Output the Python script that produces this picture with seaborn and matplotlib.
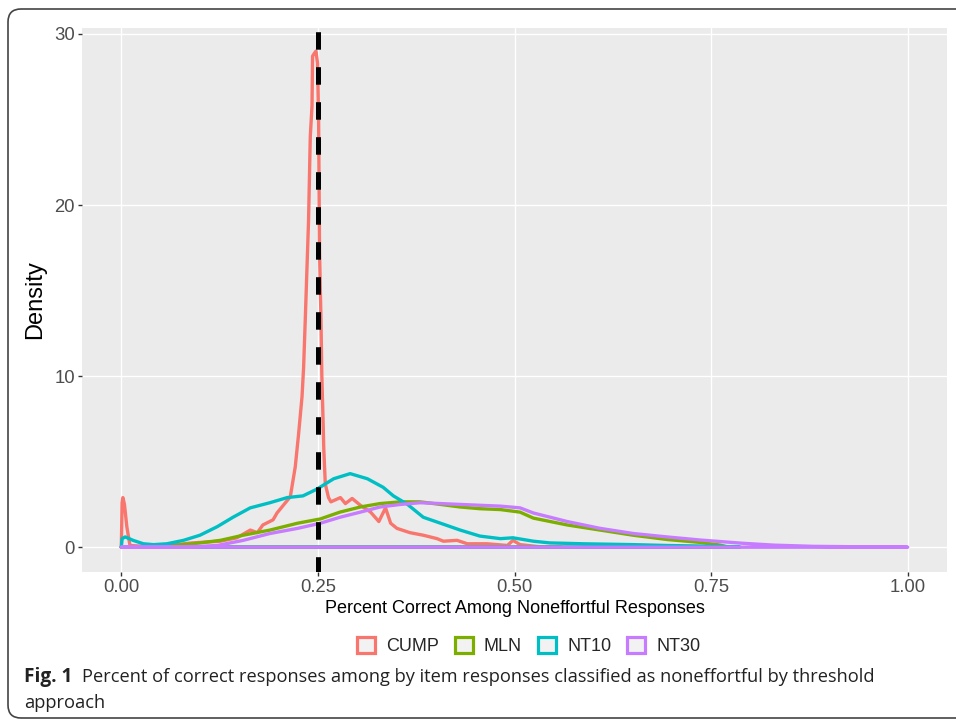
import numpy as np
import pandas as pd
import seaborn as sns
import matplotlib.pyplot as plt
from matplotlib.patches import Patch, FancyBboxPatch
from matplotlib.transforms import IdentityTransform

# density curves (x = percent correct, y = density)
cump_x = [0.000, 0.001, 0.002, 0.004, 0.007, 0.011, 0.030, 0.060, 0.090, 0.126, 0.147, 0.164,
          0.173, 0.180, 0.193, 0.198, 0.206, 0.2149, 0.2212, 0.2254, 0.2298, 0.2318, 0.234,
          0.2381, 0.2403, 0.2425, 0.2432, 0.2445, 0.2475, 0.2495, 0.2509, 0.2521, 0.2539,
          0.2550, 0.2565, 0.2575, 0.2594, 0.2635, 0.2665, 0.2786, 0.2850, 0.2935, 0.3040,
          0.3170, 0.3275, 0.3360, 0.3425, 0.3505, 0.3670, 0.3840, 0.4015, 0.4095, 0.4270,
          0.4400, 0.4650, 0.4910, 0.4980, 0.5070, 0.5330, 0.5600]
cump_y = [0.0, 2.6, 2.9, 2.5, 1.2, 0.1, 0.05, 0.1, 0.25, 0.35, 0.55, 1.0,
          0.85, 1.3, 1.6, 2.0, 2.45, 2.95, 4.7, 6.6, 8.8, 10.5, 13.4,
          19.1, 24.0, 25.8, 28.7, 28.8, 29.0, 28.3, 25.0, 17.2, 13.3,
          10.0, 7.5, 5.7, 3.7, 2.9, 2.65, 2.9, 2.55, 2.85, 2.45,
          2.05, 1.5, 2.3, 1.4, 1.1, 0.85, 0.7, 0.5, 0.35, 0.4,
          0.2, 0.2, 0.1, 0.4, 0.15, 0.02, 0.0]

mln_x = [0.000, 0.030, 0.060, 0.0915, 0.126, 0.155, 0.189, 0.224, 0.253, 0.278, 0.304, 0.329,
         0.355, 0.380, 0.406, 0.431, 0.456, 0.482, 0.507, 0.524, 0.567, 0.609, 0.651, 0.694,
         0.736, 0.762, 0.772]
mln_y = [0.0, 0.02, 0.08, 0.2, 0.4, 0.7, 1.0, 1.4, 1.65, 2.05, 2.35, 2.55,
         2.65, 2.65, 2.5, 2.35, 2.25, 2.2, 2.05, 1.7, 1.3, 1.0, 0.7, 0.45,
         0.28, 0.12, 0.0]

nt10_x = [0.000, 0.001, 0.005, 0.015, 0.028, 0.041, 0.058, 0.079, 0.100, 0.122, 0.142, 0.164,
          0.189, 0.211, 0.231, 0.249, 0.270, 0.291, 0.313, 0.333, 0.346, 0.364, 0.384, 0.406,
          0.431, 0.456, 0.482, 0.498, 0.524, 0.545, 0.587, 0.651, 0.694, 0.762, 0.787]
nt10_y = [0.0, 0.5, 0.6, 0.4, 0.2, 0.15, 0.2, 0.4, 0.7, 1.2, 1.75, 2.3,
          2.6, 2.9, 3.0, 3.4, 4.0, 4.3, 4.0, 3.5, 3.0, 2.5, 1.75, 1.4,
          1.0, 0.65, 0.5, 0.55, 0.35, 0.25, 0.2, 0.15, 0.1, 0.05, 0.0]

nt30_x = [0.000, 0.050, 0.100, 0.122, 0.155, 0.189, 0.224, 0.253, 0.278, 0.304, 0.329, 0.355,
          0.380, 0.406, 0.431, 0.456, 0.482, 0.507, 0.524, 0.567, 0.609, 0.651, 0.694, 0.736,
          0.790, 0.830, 0.880, 0.950, 1.000]
nt30_y = [0.0, 0.0, 0.05, 0.1, 0.4, 0.8, 1.1, 1.4, 1.75, 2.05, 2.35, 2.5,
          2.6, 2.55, 2.5, 2.45, 2.4, 2.3, 2.0, 1.5, 1.1, 0.8, 0.6, 0.42,
          0.23, 0.12, 0.05, 0.02, 0.0]

methods = ["CUMP", "MLN", "NT10", "NT30"]
colors = ["#F8766D", "#7CAE00", "#00BFC4", "#C77CFF"]
threshold = 0.25

curves = {"CUMP": (cump_x, cump_y), "MLN": (mln_x, mln_y),
          "NT10": (nt10_x, nt10_y), "NT30": (nt30_x, nt30_y)}

# geom_density outlines are closed polygons -> add the return along the baseline
frames = []
for m in methods:
    xs, ys = curves[m]
    xs = list(xs) + [xs[0]]
    ys = list(ys) + [0.0]
    frames.append(pd.DataFrame({"x": xs, "density": ys, "method": m,
                                "order": np.arange(len(xs))}))
df = pd.concat(frames, ignore_index=True)

sns.set_theme(style="darkgrid", rc={"axes.facecolor": "#EBEBEB",
                                    "grid.color": "white",
                                    "grid.linewidth": 1.0})
plt.rcParams["font.family"] = ["Liberation Sans", "DejaVu Sans"]

fig = plt.figure(figsize=(9.56, 7.22), dpi=100)
ax = fig.add_axes([82 / 956, 150 / 722, 865 / 956, 544 / 722])

for m, c in zip(methods, colors):
    sns.lineplot(data=df[df["method"] == m], x="x", y="density", color=c,
                 sort=False, estimator=None, linewidth=2.4, ax=ax, legend=False)

# dashed threshold line, drawn top -> bottom so the dash phase matches
ax.axvline(threshold, ymin=1, ymax=0, color="black", linewidth=3.6,
           linestyle=(6.26, (3.5, 3.5)))

ax.set_xlim(-0.05, 1.05)
ax.set_ylim(-1.45, 30.35)
ax.set_xticks([0, 0.25, 0.5, 0.75, 1.0])
ax.set_xticklabels(["0.00", "0.25", "0.50", "0.75", "1.00"])
ax.set_yticks([0, 10, 20, 30])
ax.tick_params(axis="both", which="major", length=3, width=1, color="#333333",
               labelcolor="#4D4D4D", labelsize=13.3, pad=2, left=True, bottom=True)
for s in ax.spines.values():
    s.set_visible(False)
ax.set_xlabel("Percent Correct Among Noneffortful Responses", fontsize=13,
              color="black", labelpad=3)
ax.set_ylabel("Density", fontsize=17, color="black", labelpad=6)

handles = [Patch(facecolor="#F2F2F2", edgecolor=c, linewidth=2.3, label=m)
           for m, c in zip(methods, colors)]
fig.legend(handles=handles, loc="center", bbox_to_anchor=(0.553, 1 - 646 / 722),
           ncol=4, frameon=False, fontsize=13, handlelength=1.0, handleheight=1.0,
           handletextpad=0.6, columnspacing=0.9)

# rounded frame around the figure and its caption (pixel coordinates)
frame = FancyBboxPatch((8, 4), 975, 709,
                       boxstyle="round,pad=0,rounding_size=13",
                       transform=IdentityTransform(), facecolor="none",
                       edgecolor="#444444", linewidth=1.2, clip_on=False)
fig.patches.append(frame)

cap_font = ["Open Sans", "DejaVu Sans"]
cap_size = 13.15
t1 = fig.text(24 / 956, 1 - 677 / 722, "Fig. 1", fontsize=cap_size + 0.5, fontweight="bold",
              family=cap_font, va="center", ha="left", color="#222222")
fig.canvas.draw()
bb = t1.get_window_extent()
fig.text((bb.x1 + 10) / 956, 1 - 677 / 722,
         "Percent of correct responses among by item responses classified as noneffortful by threshold",
         fontsize=cap_size, family=cap_font, va="center", ha="left", color="#222222")
fig.text(24 / 956, 1 - 703 / 722, "approach", fontsize=cap_size, family=cap_font,
         va="center", ha="left", color="#222222")

fig.savefig("out.png", dpi=100)
